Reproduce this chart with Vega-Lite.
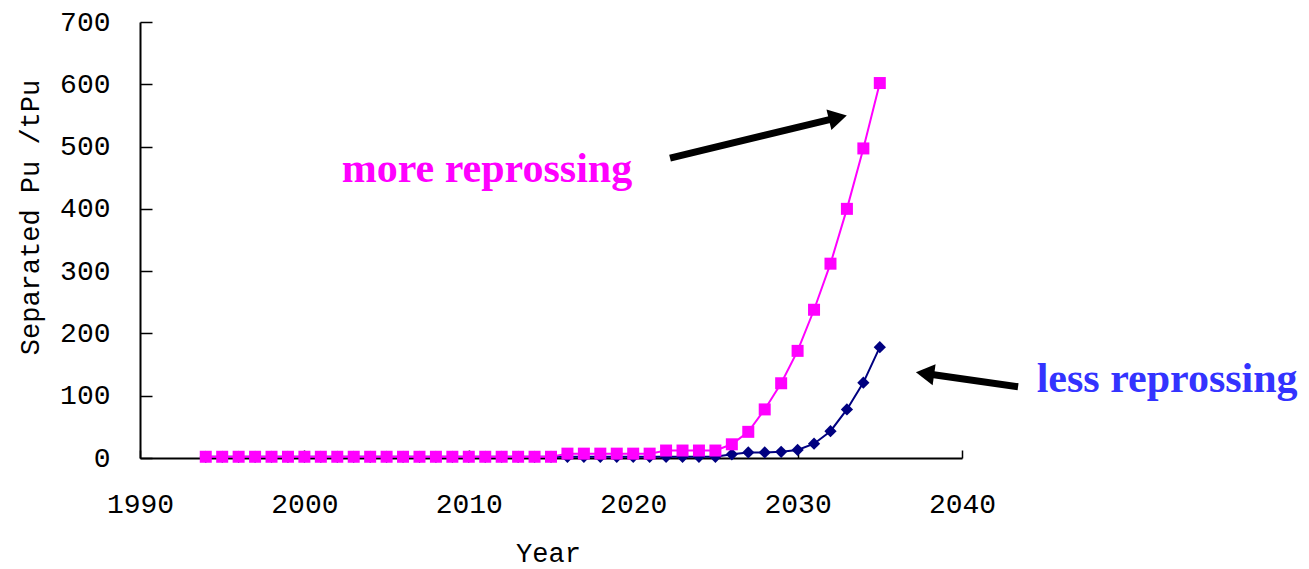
{
  "$schema": "https://vega.github.io/schema/vega-lite/v6.json",
  "autosize": {"type": "none"},
  "width": 822,
  "height": 436,
  "padding": {"left": 140, "top": 22, "right": 347, "bottom": 111},
  "background": "white",
  "config": {
    "view": {"stroke": null},
    "axis": {
      "grid": false,
      "labelFont": "Liberation Mono",
      "labelFontSize": 28,
      "labelColor": "#000000",
      "labelFlush": false,
      "labelOverlap": false,
      "titleFont": "Liberation Mono",
      "titleFontSize": 27,
      "titleFontWeight": "normal",
      "titleColor": "#000000",
      "domainColor": "#000000",
      "domainWidth": 2,
      "tickColor": "#000000",
      "tickWidth": 1.5
    }
  },
  "datasets": {
    "series": [
      {"year": 1994, "value": 2, "series": "less"}, {"year": 1995, "value": 2, "series": "less"},
      {"year": 1996, "value": 2, "series": "less"}, {"year": 1997, "value": 2, "series": "less"},
      {"year": 1998, "value": 2, "series": "less"}, {"year": 1999, "value": 2, "series": "less"},
      {"year": 2000, "value": 2, "series": "less"}, {"year": 2001, "value": 2, "series": "less"},
      {"year": 2002, "value": 2, "series": "less"}, {"year": 2003, "value": 2, "series": "less"},
      {"year": 2004, "value": 2, "series": "less"}, {"year": 2005, "value": 2, "series": "less"},
      {"year": 2006, "value": 2, "series": "less"}, {"year": 2007, "value": 2, "series": "less"},
      {"year": 2008, "value": 2, "series": "less"}, {"year": 2009, "value": 2, "series": "less"},
      {"year": 2010, "value": 2, "series": "less"}, {"year": 2011, "value": 2, "series": "less"},
      {"year": 2012, "value": 2, "series": "less"}, {"year": 2013, "value": 2, "series": "less"},
      {"year": 2014, "value": 2, "series": "less"}, {"year": 2015, "value": 2, "series": "less"},
      {"year": 2016, "value": 2, "series": "less"}, {"year": 2017, "value": 2, "series": "less"},
      {"year": 2018, "value": 2, "series": "less"}, {"year": 2019, "value": 2, "series": "less"},
      {"year": 2020, "value": 2, "series": "less"}, {"year": 2021, "value": 2, "series": "less"},
      {"year": 2022, "value": 2, "series": "less"}, {"year": 2023, "value": 2, "series": "less"},
      {"year": 2024, "value": 2, "series": "less"}, {"year": 2025, "value": 2, "series": "less"},
      {"year": 2026, "value": 6, "series": "less"}, {"year": 2027, "value": 9, "series": "less"},
      {"year": 2028, "value": 9, "series": "less"}, {"year": 2029, "value": 10, "series": "less"},
      {"year": 2030, "value": 13, "series": "less"}, {"year": 2031, "value": 23, "series": "less"},
      {"year": 2032, "value": 43, "series": "less"}, {"year": 2033, "value": 78, "series": "less"},
      {"year": 2034, "value": 121, "series": "less"}, {"year": 2035, "value": 178, "series": "less"},
      {"year": 1994, "value": 2, "series": "more"}, {"year": 1995, "value": 2, "series": "more"},
      {"year": 1996, "value": 2, "series": "more"}, {"year": 1997, "value": 2, "series": "more"},
      {"year": 1998, "value": 2, "series": "more"}, {"year": 1999, "value": 2, "series": "more"},
      {"year": 2000, "value": 2, "series": "more"}, {"year": 2001, "value": 2, "series": "more"},
      {"year": 2002, "value": 2, "series": "more"}, {"year": 2003, "value": 2, "series": "more"},
      {"year": 2004, "value": 2, "series": "more"}, {"year": 2005, "value": 2, "series": "more"},
      {"year": 2006, "value": 2, "series": "more"}, {"year": 2007, "value": 2, "series": "more"},
      {"year": 2008, "value": 2, "series": "more"}, {"year": 2009, "value": 2, "series": "more"},
      {"year": 2010, "value": 2, "series": "more"}, {"year": 2011, "value": 2, "series": "more"},
      {"year": 2012, "value": 2, "series": "more"}, {"year": 2013, "value": 2, "series": "more"},
      {"year": 2014, "value": 2, "series": "more"}, {"year": 2015, "value": 2, "series": "more"},
      {"year": 2016, "value": 7, "series": "more"}, {"year": 2017, "value": 7, "series": "more"},
      {"year": 2018, "value": 7, "series": "more"}, {"year": 2019, "value": 7, "series": "more"},
      {"year": 2020, "value": 7, "series": "more"}, {"year": 2021, "value": 7, "series": "more"},
      {"year": 2022, "value": 12, "series": "more"}, {"year": 2023, "value": 12, "series": "more"},
      {"year": 2024, "value": 12, "series": "more"}, {"year": 2025, "value": 12, "series": "more"},
      {"year": 2026, "value": 22, "series": "more"}, {"year": 2027, "value": 42, "series": "more"},
      {"year": 2028, "value": 78, "series": "more"}, {"year": 2029, "value": 120, "series": "more"},
      {"year": 2030, "value": 172, "series": "more"}, {"year": 2031, "value": 238, "series": "more"},
      {"year": 2032, "value": 312, "series": "more"}, {"year": 2033, "value": 400, "series": "more"},
      {"year": 2034, "value": 497, "series": "more"}, {"year": 2035, "value": 602, "series": "more"}
    ],
    "arrows": [
      {"year": 2022.24, "value": 481.6, "year2": 2032.45, "value2": 546.5},
      {"year": 2043.41, "value": 114.5, "year2": 2037.75, "value2": 135.6}
    ],
    "head1": [{"year": 2032.45, "value": 546.5}],
    "head2": [{"year": 2037.75, "value": 135.6}],
    "label1": [{"year": 2002.27, "value": 443.6, "label": "more reprossing"}],
    "label2": [{"year": 2044.54, "value": 106.4, "label": "less reprossing"}]
  },
  "layer": [
    {
      "data": {"name": "series"},
      "transform": [{"filter": "datum.series === 'less'"}],
      "mark": {"type": "line", "color": "#000080", "strokeWidth": 2,
               "point": {"shape": "diamond", "size": 150, "filled": true, "color": "#000080", "opacity": 1}},
      "encoding": {
        "x": {"field": "year", "type": "quantitative",
              "scale": {"domain": [1990, 2040], "nice": false, "zero": false},
              "axis": {"values": [1990, 2000, 2010, 2020, 2030, 2040], "format": "d", "tickSize": -8,
                       "labelPadding": 40, "title": "Year", "titleX": 408, "titleY": 95,
                       "titleBaseline": "middle", "titleAnchor": "start", "titleAlign": "center"}},
        "y": {"field": "value", "type": "quantitative",
              "scale": {"domain": [0, 700], "nice": false},
              "axis": {"values": [0, 100, 200, 300, 400, 500, 600, 700], "tickSize": -12,
                       "labelPadding": 42, "title": "Separated Pu /tPu", "titleX": -110, "titleY": 195,
                       "titleBaseline": "middle", "titleAlign": "center", "titleAngle": -90}}
      }
    },
    {
      "data": {"name": "series"},
      "transform": [{"filter": "datum.series === 'more'"}],
      "mark": {"type": "line", "color": "#ff00ff", "strokeWidth": 2,
               "point": {"shape": "square", "size": 144, "filled": true, "color": "#ff00ff", "opacity": 1}},
      "encoding": {
        "x": {"field": "year", "type": "quantitative"},
        "y": {"field": "value", "type": "quantitative"}
      }
    },
    {
      "data": {"name": "arrows"},
      "mark": {"type": "rule", "color": "#000000", "strokeWidth": 7},
      "encoding": {
        "x": {"field": "year", "type": "quantitative"},
        "y": {"field": "value", "type": "quantitative"},
        "x2": {"field": "year2"},
        "y2": {"field": "value2"}
      }
    },
    {
      "data": {"name": "head1"},
      "mark": {"type": "point", "shape": "triangle-up", "size": 450, "filled": true, "color": "#000000", "opacity": 1, "angle": 76.6},
      "encoding": {
        "x": {"field": "year", "type": "quantitative"},
        "y": {"field": "value", "type": "quantitative"}
      }
    },
    {
      "data": {"name": "head2"},
      "mark": {"type": "point", "shape": "triangle-up", "size": 450, "filled": true, "color": "#000000", "opacity": 1, "angle": 278},
      "encoding": {
        "x": {"field": "year", "type": "quantitative"},
        "y": {"field": "value", "type": "quantitative"}
      }
    },
    {
      "data": {"name": "label1"},
      "mark": {"type": "text", "font": "Liberation Serif", "fontSize": 42, "fontWeight": "bold",
               "color": "#ff00ff", "align": "left", "baseline": "alphabetic"},
      "encoding": {
        "x": {"field": "year", "type": "quantitative"},
        "y": {"field": "value", "type": "quantitative"},
        "text": {"field": "label"}
      }
    },
    {
      "data": {"name": "label2"},
      "mark": {"type": "text", "font": "Liberation Serif", "fontSize": 42, "fontWeight": "bold",
               "color": "#3333ff", "align": "left", "baseline": "alphabetic"},
      "encoding": {
        "x": {"field": "year", "type": "quantitative"},
        "y": {"field": "value", "type": "quantitative"},
        "text": {"field": "label"}
      }
    }
  ]
}
